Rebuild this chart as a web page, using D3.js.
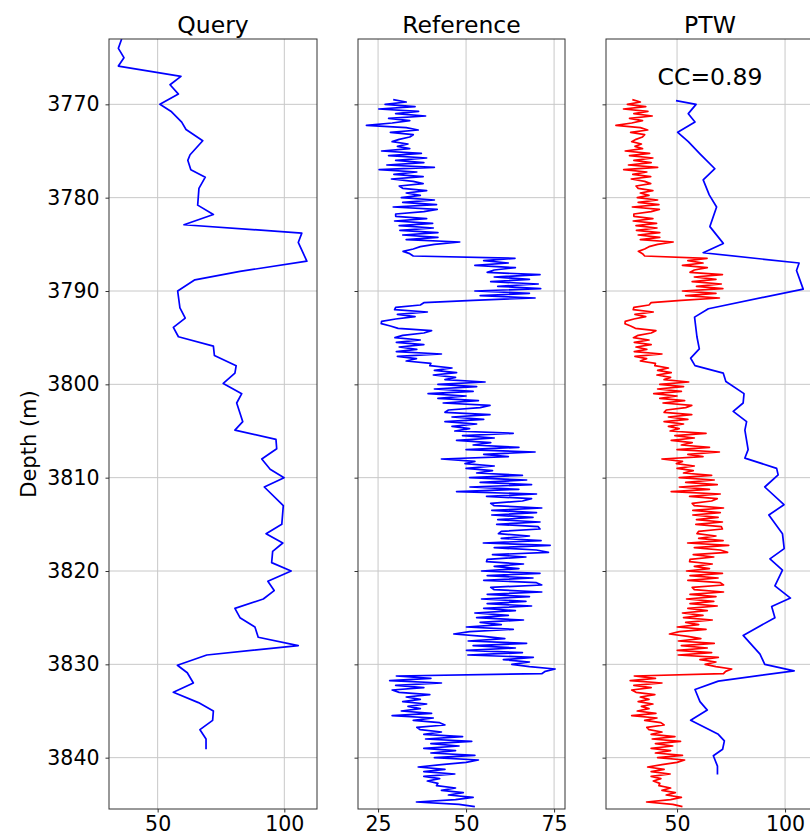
<!DOCTYPE html>
<html>
<head>
<meta charset="utf-8">
<script src="https://cdn.jsdelivr.net/npm/d3@7"></script>
<style>
  body { margin: 0; background: #fff; }
  svg { font-family: "DejaVu Sans", sans-serif; }
</style>
</head>
<body>
<svg id="chart" width="810" height="839"></svg>
<script>
// Query log (depth, value)
const queryDepth = [3763, 3764, 3765, 3765.9, 3767, 3767.9, 3768.9, 3770, 3770.8, 3771.9, 3772.7, 3773.9, 3775.4, 3776, 3777, 3777.8, 3779, 3780.8, 3781.8, 3782.9,
  3783.8, 3784.8, 3786.8, 3787.9, 3788.8, 3790, 3791.8, 3792.9, 3793.9, 3794.9, 3795.9, 3796.9, 3798, 3798.8, 3799.9, 3801, 3802, 3804, 3804.9, 3805.9,
  3806.9, 3808, 3809.1, 3810, 3811, 3813, 3815, 3816, 3817, 3817.9, 3819.1, 3820, 3821.1, 3822.1, 3823, 3824, 3825, 3826, 3827.1, 3828,
  3829, 3830.1, 3830.9, 3832, 3833, 3834.1, 3835, 3836, 3837, 3838, 3839.1];
const queryValue = [35.8, 34.5, 36.7, 34.5, 59.2, 54.9, 58.2, 50.9, 55.5, 59.5, 61.2, 67.8, 62.8, 61.9, 63.1, 68.8, 66.3, 65.8, 72, 60.4,
  106.9, 105.5, 108.9, 82.5, 64.7, 57.9, 58.8, 60.9, 56.2, 58.2, 72, 72.4, 81, 80.5, 75.9, 83.2, 81.2, 83.6, 80.5, 96.7,
  97, 91.1, 94.4, 99.9, 92.1, 99.6, 99, 92.8, 99.4, 95.4, 95, 102.7, 93.5, 96, 91.7, 80.5, 82.5, 88.4, 89.7, 105.5,
  69.4, 57.8, 61.7, 64.1, 56.2, 66.1, 72, 71.7, 66.7, 69.1, 69.1];

// Reference log, sampled every 0.25 m from 3769.5 m
const refTop = 3769.5;
const refStep = 0.25;
const refValue = [
  29.3, 33.0,
  27, 35.5, 25.2, 36.5,   30, 38.5, 28, 34,       29, 21.7, 33, 36.4,     28.5, 35, 34, 31,
  29, 33.5, 30.5, 34,     26, 37.3, 28, 38.8,     30, 38, 27.5, 41,       25.3, 36, 29.5, 37.8,
  28.8, 35, 37.8, 31,     32, 38.8, 33, 37,       31.6, 41, 32, 41.6,     29.3, 41.8, 38, 30,
  30, 38.8, 29.7, 40.5,   31, 40.7, 31.2, 42,     32, 42, 33, 48.2,       41, 37, 35, 32.1,
  34, 35, 63.9, 55,       62, 52.5, 64, 58,       56, 71, 58, 68,         57, 70.5, 59, 71.2,
  52.5, 68, 54, 69.6,     52, 38, 37, 30,         29.7, 39, 30.5, 35.5,   30, 26, 25.9, 28.5,
  30.7, 40.2, 38, 32,     29.8, 37, 30.2, 38,     31, 36, 30.2, 43,       30.5, 35.9, 33, 40,
  39.7, 46, 41, 47.3,     40.7, 47, 44, 55.4,     42, 53, 41, 52,         39.2, 50, 42, 53.5,
  43.5, 56.8, 54, 45,     44, 56.8, 46, 55,       44, 53, 46, 51,         46.8, 63.4, 49, 58,
  47.3, 57, 52, 65,       50, 69.6, 55, 62,       43, 52.5, 49.7, 58,     50, 57.5, 53, 66,
  51, 67.2, 54, 68.6,     51.1, 65, 47.3, 70,     55.8, 68.6, 66, 57,     58, 71.5, 57.3, 70,
  57.3, 69, 59, 71,       58.7, 70.5, 71, 60,     59.2, 68, 60, 71.3,     54.9, 73.9, 58, 70,
  73.4, 57.5, 67, 56,     55.8, 66.3, 58, 65,     54.4, 71, 56, 69,       55, 70, 71.5, 57,
  58, 71.5, 56, 68,       54.4, 67, 56, 68.6,     55, 64, 52.5, 62,       53, 66.3, 54, 60,
  50.1, 63.4, 51, 46.5,   55, 61, 50.6, 67.2,     52, 64, 50.1, 66,       50.5, 69.1, 60.6, 68,
  63, 68, 75.3, 72.5,     71.5, 30.2, 40, 28.3,   43, 30, 38, 29,         31, 39.7, 33, 37,
  32, 38.8, 33.5, 37,     31.6, 40.2, 29, 40.7,   35, 42.5, 44, 36,       37, 43, 38, 49,
  38.5, 51.6, 40, 48,     38, 47, 40, 52.5,       41, 53.5, 50, 43,       36.4, 44, 38, 46.8,
  38, 42.5, 39, 42,       41.6, 47, 43, 49.2,     45, 52, 47, 35.9,
  48, 52.5
];

// Query after PTW warping (blue line in the right panel)
const warpDepth = [3769.6, 3770, 3771, 3771.9, 3773, 3774, 3775.3, 3776.9, 3778.1, 3779.7, 3781, 3783.1, 3784.9, 3785.9, 3787, 3787.8, 3789.8, 3791.9, 3792.8, 3794.9,
  3796.2, 3797.2, 3798, 3798.8, 3799.7, 3801, 3802, 3802.9, 3804, 3804.9, 3807, 3807.9, 3809, 3809.7, 3811, 3812.9, 3814, 3816, 3817.6, 3818.7,
  3819.9, 3821.6, 3822.9, 3823.8, 3825, 3826.9, 3828.9, 3830, 3830.7, 3831.8, 3832.7, 3834, 3834.9, 3836, 3837.5, 3838.2, 3839.1, 3839.8, 3840.9, 3841.8];
const warpValue = [49.5, 58.8, 55.2, 58.3, 50.3, 55.2, 60.6, 67.5, 62.1, 64.9, 68.3, 65.2, 71.4, 62.1, 106.5, 105.3, 108.4, 64.5, 58.1, 59.2,
  60.3, 56.3, 58.3, 71.4, 72.6, 81, 80.6, 76, 82.2, 81.4, 82.9, 81.4, 96.1, 96.8, 90.6, 99.5, 92.5, 98.8, 99.6, 93,
  98.8, 95.3, 102.5, 93.8, 95.3, 80.6, 88.4, 90.6, 104.2, 69.1, 58.3, 60.6, 64, 56.3, 69.1, 71.9, 71.1, 66.8, 68.7, 68.7];

const titles = ["Query", "Reference", "PTW"];
const depthTicks = [3770, 3780, 3790, 3800, 3810, 3820, 3830, 3840];
const queryTicks = [50, 100];
const refTicks = [25, 50, 75];
const ptwTicks = [50, 100];
const ccLabel = "CC=0.89";

const query = queryDepth.map((d, i) => ({ depth: d, value: queryValue[i] }));
const reference = refValue.map((v, i) => ({ depth: refTop + i * refStep, value: v }));
const warped = warpDepth.map((d, i) => ({ depth: d, value: warpValue[i] }));

const svg = d3.select("#chart");
const plotTop = 39, plotBottom = 809;

const y = d3.scaleLinear().domain([3763.0, 3845.5]).range([plotTop, plotBottom]);

const panels = [
  { x0: 109, x1: 317, domain: [30.8, 112.9], ticks: queryTicks, series: [{ data: query, color: "blue" }] },
  { x0: 358, x1: 565, domain: [19.3, 78.1], ticks: refTicks, series: [{ data: reference, color: "blue" }] },
  { x0: 606, x1: 814, domain: [17.1, 113.4], ticks: ptwTicks,
    series: [{ data: reference, color: "red" }, { data: warped, color: "blue" }] }
];

panels.forEach((p, idx) => {
  const x = d3.scaleLinear().domain(p.domain).range([p.x0, p.x1]);
  const g = svg.append("g");

  g.append("clipPath").attr("id", "clip" + idx)
    .append("rect").attr("x", p.x0).attr("y", plotTop).attr("width", p.x1 - p.x0).attr("height", plotBottom - plotTop);

  // grid
  g.selectAll(".vg").data(p.ticks).enter().append("line")
    .attr("x1", d => x(d)).attr("x2", d => x(d)).attr("y1", plotTop).attr("y2", plotBottom)
    .attr("stroke", "#c8c8c8").attr("stroke-width", 1);
  g.selectAll(".hg").data(depthTicks).enter().append("line")
    .attr("x1", p.x0).attr("x2", p.x1).attr("y1", d => y(d)).attr("y2", d => y(d))
    .attr("stroke", "#c8c8c8").attr("stroke-width", 1);

  const line = d3.line().x(d => x(d.value)).y(d => y(d.depth));
  p.series.forEach(s => {
    g.append("path").datum(s.data)
      .attr("clip-path", `url(#clip${idx})`)
      .attr("d", line)
      .attr("fill", "none")
      .attr("stroke", s.color)
      .attr("stroke-width", 1.7)
      .attr("stroke-linejoin", "round");
  });

  // frame
  g.append("rect").attr("x", p.x0).attr("y", plotTop).attr("width", p.x1 - p.x0).attr("height", plotBottom - plotTop)
    .attr("fill", "none").attr("stroke", "#333").attr("stroke-width", 1);

  // y ticks (labels on first panel only)
  const yAxis = d3.axisLeft(y).tickValues(depthTicks).tickSize(3.5).tickPadding(6)
    .tickFormat(idx === 0 ? d3.format("d") : "");
  const ya = g.append("g").attr("transform", `translate(${p.x0},0)`).call(yAxis);
  ya.select(".domain").remove();
  ya.selectAll("text").attr("font-size", 20.5).attr("fill", "#000").attr("font-family", "DejaVu Sans");
  ya.selectAll("line").attr("stroke", "#333");

  // x ticks
  const xAxis = d3.axisBottom(x).tickValues(p.ticks).tickSize(3.5).tickPadding(4).tickFormat(d3.format("d"));
  const xa = g.append("g").attr("transform", `translate(0,${plotBottom})`).call(xAxis);
  xa.select(".domain").remove();
  xa.selectAll("text").attr("font-size", 20.5).attr("fill", "#000").attr("font-family", "DejaVu Sans");
  xa.selectAll("line").attr("stroke", "#333");

  // title
  g.append("text").attr("x", (p.x0 + p.x1) / 2).attr("y", 33)
    .attr("text-anchor", "middle").attr("font-size", 23.5).attr("fill", "#000")
    .text(titles[idx]);

  if (idx === 2) {
    g.append("text").attr("x", 710).attr("y", 85)
      .attr("text-anchor", "middle").attr("font-size", 23.5).attr("fill", "#000")
      .text(ccLabel);
  }
});

// depth label
svg.append("text")
  .attr("transform", `translate(36,${(plotTop + plotBottom) / 2 + 20}) rotate(-90)`)
  .attr("text-anchor", "middle").attr("font-size", 21).attr("fill", "#000")
  .text("Depth (m)");
</script>
</body>
</html>
